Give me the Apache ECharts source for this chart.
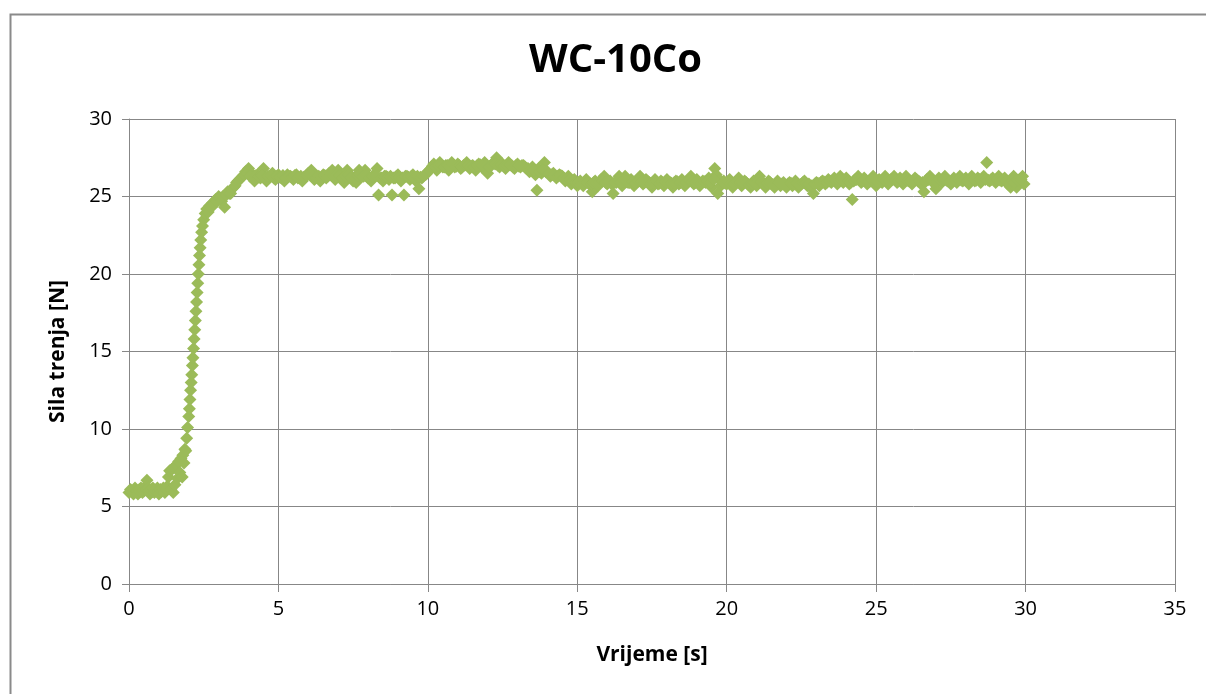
<!DOCTYPE html>
<html>
<head>
<meta charset="utf-8">
<script src="https://cdn.jsdelivr.net/npm/echarts@6/dist/echarts.min.js"></script>
<style>
html,body{margin:0;padding:0;background:#fff;}
#chart{width:1206px;height:694px;}
</style>
</head>
<body>
<div id="chart"></div>
<script>
// [time s, friction force N]
const startPhase = [[0,5.9],[0.05,6.1],[0.075,6.0],[0.1,6.0],[0.15,5.8],[0.175,6.05],[0.2,6.2],[0.25,6.0],[0.275,6.0],[0.3,5.8],[0.35,6.1],[0.375,5.95],[0.4,6.2],[0.45,5.9],[0.475,6.05],[0.5,6.0],[0.55,6.3],[0.575,6.1],[0.6,6.7],[0.65,6.2],[0.675,6.0],[0.7,5.8],[0.75,6.1],[0.775,5.95],[0.8,6.2],[0.85,5.9],[0.875,6.05],[0.9,6.0],[0.95,6.2],[0.975,6.0],[1.0,5.8],[1.05,6.1],[1.075,5.95],[1.1,6.0],[1.15,6.2],[1.175,6.05],[1.2,5.9],[1.25,6.1]];
const risePhase = [[1.28,6.3],[1.32,6.9],[1.36,7.3],[1.4,6.1],[1.44,7.4],[1.48,5.9],[1.5,7.5],[1.54,6.4],[1.58,7.7],[1.62,6.8],[1.66,7.9],[1.7,7.2],[1.74,8.1],[1.78,6.9],[1.8,8.3],[1.84,7.8],[1.87,8.7],[1.9,8.6],[1.93,9.4],[1.96,10.1],[2.0,10.8],[2.02,11.3],[2.04,11.9],[2.06,12.5],[2.08,13.0],[2.1,13.5],[2.12,14.1],[2.14,14.6],[2.16,15.2],[2.18,15.8],[2.2,16.4],[2.22,17.0],[2.24,17.6],[2.26,18.2],[2.28,18.8],[2.3,19.4],[2.32,20.0],[2.34,20.6],[2.36,21.2],[2.38,21.7],[2.4,22.2],[2.43,22.7],[2.46,23.1],[2.5,23.5],[2.55,23.9],[2.6,24.2],[2.65,24.0],[2.7,24.4],[2.75,24.3],[2.8,24.6],[2.85,24.5],[2.9,24.8],[2.95,24.7],[3.0,25.0],[3.05,24.9],[3.1,24.7],[3.15,25.0],[3.2,24.3],[3.25,25.1],[3.3,25.3],[3.35,25.2],[3.4,25.2],[3.45,25.5],[3.5,25.6],[3.55,25.7],[3.6,25.9],[3.65,26.0],[3.7,26.1],[3.75,26.2],[3.8,26.3],[3.85,26.4],[3.9,26.6],[3.95,26.5],[4.0,26.8]];
const plateauA = [[4.1,26.5],[4.2,26.0],[4.3,26.4],[4.4,26.2],[4.5,26.8],[4.6,26.0],[4.7,26.3],[4.8,26.5],[4.9,26.1],[5.0,26.4],[5.1,26.2],[5.2,26.0],[5.3,26.4],[5.4,26.3],[5.5,26.1],[5.6,26.4],[5.7,26.2],[5.8,26.0],[5.9,26.3],[6.0,26.5],[6.1,26.7],[6.2,26.1],[6.3,26.3],[6.4,26.0],[6.5,26.4],[6.6,26.2],[6.7,26.5],[6.8,26.7],[6.9,26.1],[7.0,26.7],[7.1,26.3],[7.2,25.9],[7.3,26.7],[7.4,26.4],[7.5,26.0],[7.6,25.9],[7.7,26.7],[7.8,26.3],[7.9,26.7],[8.0,26.2],[8.1,26.0],[8.2,26.4],[8.3,26.8],[8.35,25.1],[8.4,26.2],[8.5,26.0],[8.6,26.3],[8.7,26.1],[8.8,25.1],[8.9,26.2],[9.0,26.4],[9.1,26.0],[9.2,25.1],[9.3,26.3],[9.4,26.1],[9.5,26.4],[9.6,26.0],[9.7,25.5],[9.8,26.2],[9.9,26.4],[10.0,26.6]];
const plateauMidA = [[4.05,26.3],[4.15,26.2],[4.25,26.35],[4.35,26.25],[4.45,26.4],[4.55,26.2],[4.65,26.3],[4.75,26.35],[4.85,26.2],[4.95,26.3],[5.05,26.25],[5.15,26.35],[5.25,26.2],[5.35,26.3],[5.45,26.25],[5.55,26.35],[5.65,26.2],[5.75,26.3],[5.85,26.25],[5.95,26.35],[6.05,26.4],[6.15,26.3],[6.25,26.2],[6.35,26.3],[6.45,26.25],[6.55,26.35],[6.65,26.3],[6.75,26.4],[6.85,26.3],[6.95,26.4],[7.05,26.35],[7.15,26.2],[7.25,26.3],[7.35,26.4],[7.45,26.25],[7.55,26.2],[7.65,26.35],[7.75,26.4],[7.85,26.3],[7.95,26.35],[8.05,26.2],[8.15,26.3],[8.25,26.35],[8.45,26.2],[8.55,26.3],[8.65,26.25],[8.75,26.3],[8.85,26.2],[8.95,26.3],[9.05,26.25],[9.15,26.2],[9.25,26.3],[9.35,26.25],[9.45,26.3],[9.55,26.2],[9.65,26.3],[9.75,26.25],[9.85,26.3],[9.95,26.45]];
const plateauB = [[10.1,26.8],[10.2,27.1],[10.3,26.7],[10.4,27.2],[10.5,26.9],[10.6,27.0],[10.7,26.7],[10.8,27.2],[10.9,26.9],[11.0,27.1],[11.1,26.8],[11.2,27.0],[11.3,27.2],[11.4,26.8],[11.5,27.0],[11.6,26.7],[11.7,27.1],[11.8,26.9],[11.9,27.2],[12.0,26.5],[12.1,27.0],[12.2,27.2],[12.3,27.5],[12.4,26.9],[12.5,27.1],[12.6,26.8],[12.7,27.2],[12.8,27.0],[12.9,26.8],[13.0,27.1],[13.1,26.9],[13.2,27.0],[13.3,26.8],[13.4,26.6],[13.5,26.9],[13.6,26.4],[13.65,25.4],[13.7,26.8],[13.8,26.5],[13.9,27.2],[14.0,26.6],[14.1,26.3],[14.2,26.5],[14.3,26.2],[14.4,26.4],[14.5,26.3],[14.6,26.0],[14.7,26.3],[14.8,25.8],[14.9,26.1],[15.0,25.7]];
const plateauMidB = [[10.05,26.7],[10.15,26.95],[10.25,26.9],[10.35,27.0],[10.45,27.05],[10.55,26.9],[10.65,27.0],[10.75,26.95],[10.85,27.05],[10.95,26.95],[11.05,27.0],[11.15,26.9],[11.25,27.05],[11.35,27.0],[11.45,26.95],[11.55,26.9],[11.65,27.0],[11.75,27.05],[11.85,26.95],[11.95,27.0],[12.05,26.9],[12.15,27.05],[12.25,27.1],[12.35,27.0],[12.45,27.05],[12.55,26.95],[12.65,27.0],[12.75,27.05],[12.85,26.9],[12.95,27.0],[13.05,26.95],[13.15,27.0],[13.25,26.9],[13.35,26.8],[13.45,26.75],[13.55,26.7],[13.75,26.6],[13.85,26.7],[13.95,26.6],[14.05,26.45],[14.15,26.4],[14.25,26.35],[14.35,26.3],[14.45,26.35],[14.55,26.2],[14.65,26.15],[14.75,26.1],[14.85,26.0],[14.95,25.9]];
const plateauC = [[15.1,26.0],[15.2,25.7],[15.3,26.1],[15.4,25.8],[15.5,25.3],[15.6,26.0],[15.7,25.7],[15.8,26.1],[15.9,26.3],[16.0,25.8],[16.1,26.0],[16.2,25.2],[16.3,25.9],[16.4,26.3],[16.5,25.7],[16.6,26.3],[16.7,25.9],[16.8,26.1],[16.9,25.7],[17.0,26.0],[17.1,26.3],[17.2,25.8],[17.3,26.1],[17.4,25.9],[17.5,25.6],[17.6,26.1],[17.7,25.8],[17.8,26.0],[17.9,25.7],[18.0,26.1],[18.1,25.9],[18.2,25.6],[18.3,26.0],[18.4,25.8],[18.5,26.1],[18.6,25.7],[18.7,26.0],[18.8,26.3],[18.9,25.8],[19.0,26.1],[19.1,25.7],[19.2,26.0],[19.3,25.9],[19.4,26.2],[19.5,25.6],[19.6,26.8],[19.65,26.4],[19.7,25.2],[19.75,26.1],[19.8,25.7],[19.9,26.0],[20.0,25.8],[20.1,26.1],[20.2,25.6],[20.3,25.9],[20.4,26.2],[20.5,25.7],[20.6,26.0],[20.7,25.8],[20.8,25.6],[20.9,26.0],[21.0,25.7],[21.1,26.3],[21.2,25.9],[21.3,25.6],[21.4,26.0],[21.5,25.8],[21.6,25.6],[21.7,26.0],[21.8,25.7],[21.9,25.9],[22.0,25.6]];
const plateauMidC = [[15.05,25.9],[15.15,25.85],[15.25,25.95],[15.35,25.9],[15.45,25.8],[15.55,25.9],[15.65,25.85],[15.75,25.95],[15.85,26.0],[15.95,25.9],[16.05,25.95],[16.15,25.8],[16.25,25.9],[16.35,26.0],[16.45,25.9],[16.55,26.0],[16.65,25.95],[16.75,25.9],[16.85,25.95],[16.95,25.85],[17.05,26.0],[17.15,25.95],[17.25,25.9],[17.35,26.0],[17.45,25.85],[17.55,25.9],[17.65,25.95],[17.75,25.85],[17.85,25.9],[17.95,25.95],[18.05,25.9],[18.15,25.85],[18.25,25.9],[18.35,25.95],[18.45,25.9],[18.55,25.85],[18.65,25.9],[18.75,26.05],[18.85,25.95],[18.95,25.9],[19.05,25.95],[19.15,25.85],[19.25,25.95],[19.35,26.0],[19.45,25.9],[19.55,26.1],[19.85,25.9],[19.95,25.85],[20.05,25.95],[20.15,25.85],[20.25,25.8],[20.35,25.95],[20.45,25.9],[20.55,25.85],[20.65,25.9],[20.75,25.75],[20.85,25.8],[20.95,25.85],[21.05,26.0],[21.15,25.95],[21.25,25.8],[21.35,25.85],[21.45,25.9],[21.55,25.75],[21.65,25.8],[21.75,25.85],[21.85,25.8],[21.95,25.75]];
const plateauD = [[22.1,25.9],[22.2,25.7],[22.3,26.0],[22.4,25.6],[22.5,25.8],[22.6,26.0],[22.7,25.7],[22.8,25.6],[22.9,25.2],[23.0,25.9],[23.1,25.7],[23.2,26.0],[23.3,25.8],[23.4,26.1],[23.5,25.9],[23.6,26.2],[23.7,25.8],[23.8,26.3],[23.9,25.9],[24.0,26.2],[24.1,25.8],[24.2,24.8],[24.3,26.1],[24.4,26.3],[24.5,25.9],[24.6,26.2],[24.7,25.8],[24.8,26.0],[24.9,26.3],[25.0,25.7],[25.1,26.1],[25.2,25.9],[25.3,26.3],[25.4,25.8],[25.5,26.1],[25.6,26.3],[25.7,25.9],[25.8,26.2],[25.9,25.8],[26.0,26.3],[26.1,26.0],[26.2,25.8],[26.3,26.2],[26.4,26.0],[26.5,25.8],[26.6,25.3],[26.7,26.1],[26.8,26.3],[26.9,25.9],[27.0,25.5],[27.1,26.2],[27.2,25.9],[27.3,26.3],[27.4,26.0],[27.5,25.8],[27.6,26.2],[27.7,25.9],[27.8,26.3],[27.9,26.0],[28.0,26.2],[28.1,25.8],[28.2,26.3],[28.3,26.0],[28.4,26.2],[28.5,25.9],[28.6,26.3],[28.7,27.2],[28.8,26.0],[28.9,26.2],[29.0,25.9],[29.1,26.3],[29.2,26.0],[29.3,26.2],[29.4,25.8],[29.5,25.6],[29.6,26.3],[29.7,25.6],[29.8,26.1],[29.9,26.3],[29.95,25.8]];
const plateauMidD = [[22.05,25.8],[22.15,25.85],[22.25,25.8],[22.35,25.85],[22.45,25.75],[22.55,25.9],[22.65,25.85],[22.75,25.8],[22.85,25.7],[22.95,25.8],[23.05,25.85],[23.15,25.9],[23.25,25.95],[23.35,25.9],[23.45,26.0],[23.55,26.05],[23.65,26.0],[23.75,26.05],[23.85,26.1],[23.95,26.05],[24.05,26.0],[24.15,25.9],[24.25,26.0],[24.35,26.1],[24.45,26.05],[24.55,26.0],[24.65,26.05],[24.75,25.95],[24.85,26.1],[24.95,26.0],[25.05,25.95],[25.15,26.0],[25.25,26.1],[25.35,26.05],[25.45,26.0],[25.55,26.1],[25.65,26.05],[25.75,26.0],[25.85,26.05],[25.95,26.1],[26.05,26.05],[26.15,25.95],[26.25,26.0],[26.35,26.1],[26.45,25.95],[26.55,25.9],[26.65,25.95],[26.75,26.1],[26.85,26.05],[26.95,25.9],[27.05,26.0],[27.15,26.05],[27.25,26.1],[27.35,26.05],[27.45,25.95],[27.55,26.0],[27.65,26.05],[27.75,26.1],[27.85,26.05],[27.95,26.1],[28.05,26.0],[28.15,26.05],[28.25,26.1],[28.35,26.05],[28.45,26.1],[28.55,26.05],[28.65,26.1],[28.75,26.05],[28.85,26.1],[28.95,26.05],[29.05,26.1],[29.15,26.05],[29.25,26.1],[29.35,26.0],[29.45,25.9],[29.55,26.0],[29.65,25.95],[29.75,26.05],[29.85,26.1]];

const titleText = 'WC-10Co';
const xName = 'Vrijeme [s]';
const yName = 'Sila trenja [N]';
const xTicks = {min:0, max:35, interval:5};
const yTicks = {min:0, max:30, interval:5};

const allPoints = [].concat(startPhase, risePhase, plateauA, plateauMidA, plateauB, plateauMidB, plateauC, plateauMidC, plateauD, plateauMidD);

const chart = echarts.init(document.getElementById('chart'), null, {renderer:'canvas'});
const gridColor = '#878787';
const font = 'Open Sans';
chart.setOption({
  backgroundColor:'#ffffff',
  animation:false,
  title:{
    text:titleText, left:524, top:36,
    textStyle:{fontFamily:font, fontWeight:'bold', fontSize:40, color:'#000'}
  },
  grid:{left:129, right:31, top:119, bottom:110, containLabel:false},
  xAxis:{
    type:'value', min:xTicks.min, max:xTicks.max, interval:xTicks.interval,
    name:xName, nameLocation:'middle', nameGap:61,
    nameTextStyle:{fontFamily:font, fontWeight:'bold', fontSize:21, color:'#000'},
    axisLine:{show:true, onZero:false, lineStyle:{color:gridColor, width:1}},
    axisTick:{show:true, inside:false, length:8, lineStyle:{color:gridColor}},
    axisLabel:{fontFamily:font, fontSize:20, color:'#000', margin:15},
    splitLine:{show:true, lineStyle:{color:gridColor, width:1}}
  },
  yAxis:{
    type:'value', min:yTicks.min, max:yTicks.max, interval:yTicks.interval,
    name:yName, nameLocation:'middle', nameGap:60, nameRotate:90,
    nameTextStyle:{fontFamily:font, fontWeight:'bold', fontSize:21, color:'#000'},
    axisLine:{show:true, onZero:false, lineStyle:{color:gridColor, width:1}},
    axisTick:{show:true, inside:false, length:7, lineStyle:{color:gridColor}},
    axisLabel:{fontFamily:font, fontSize:20, color:'#000', margin:17},
    splitLine:{show:true, lineStyle:{color:gridColor, width:1}}
  },
  graphic:[{
    type:'rect', left:8, top:12, silent:true,
    shape:{width:1400, height:900},
    style:{fill:'none', stroke:'#8a8a8a', lineWidth:2}
  }],
  series:[{
    type:'scatter',
    data:allPoints,
    symbol:'diamond',
    symbolSize:13,
    itemStyle:{color:'#9BBB59', opacity:1}
  }]
});
</script>
</body>
</html>
